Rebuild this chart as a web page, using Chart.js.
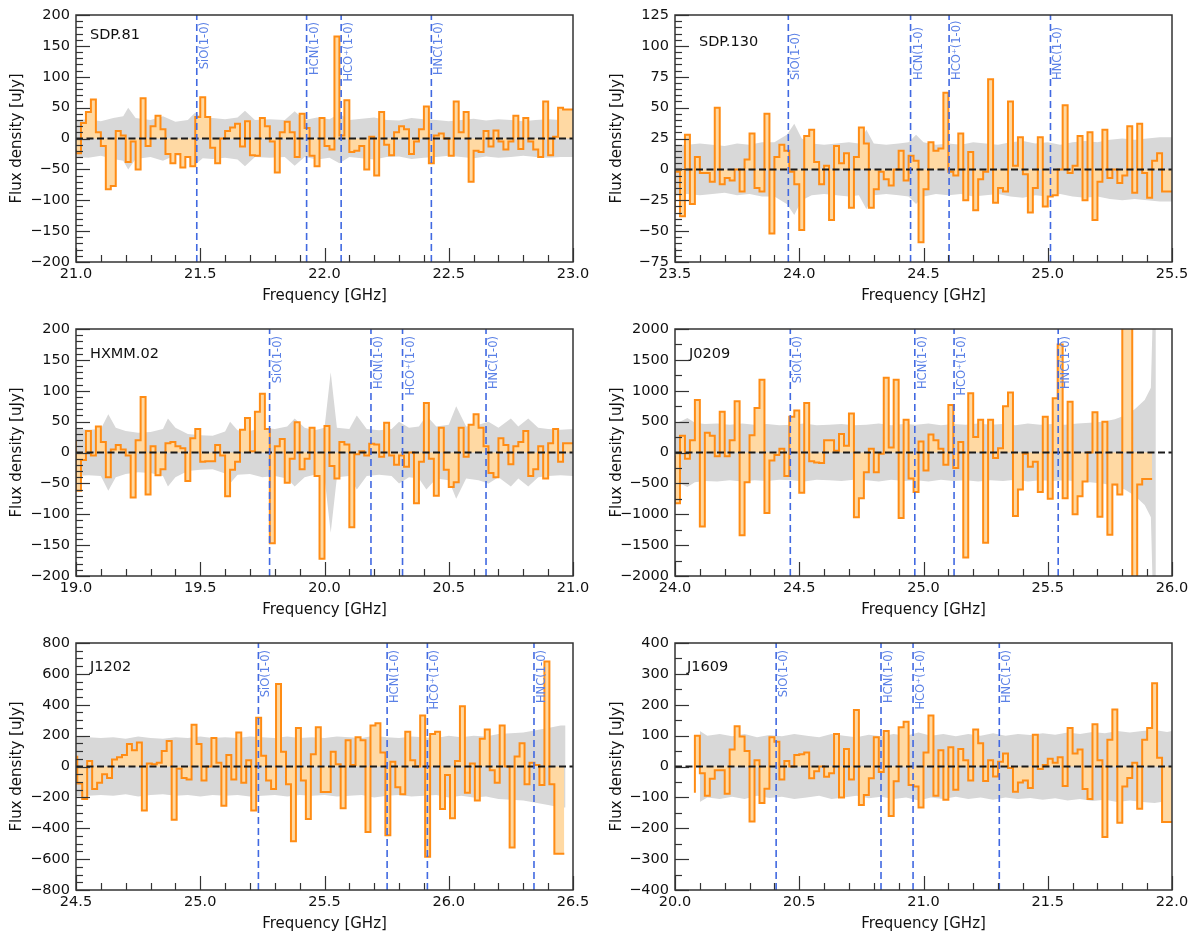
<!DOCTYPE html>
<html>
<head>
<meta charset="utf-8">
<script src="https://cdn.jsdelivr.net/npm/chart.js@4.4.1/dist/chart.umd.min.js"></script>
<style>
  body { margin: 0; background: #fff; }
  .panel { position: absolute; width: 600px; height: 314px; }
</style>
</head>
<body>
<div class="panel" style="left:0;top:0"><canvas id="p0"></canvas></div>
<div class="panel" style="left:600px;top:0"><canvas id="p1"></canvas></div>
<div class="panel" style="left:0;top:314px"><canvas id="p2"></canvas></div>
<div class="panel" style="left:600px;top:314px"><canvas id="p3"></canvas></div>
<div class="panel" style="left:0;top:628px"><canvas id="p4"></canvas></div>
<div class="panel" style="left:600px;top:628px"><canvas id="p5"></canvas></div>
<script>
// channel width of the spectra [GHz]
const CHAN = 0.02;
const lineNames = ["SiO(1-0)", "HCN(1-0)", "HCO\u207A(1-0)", "HNC(1-0)"];

// SDP.81
const sdp81Start = 21.0;
const sdp81Flux = [-18, -24, 25, 43, 63, 10, -12, -82, -77, 12,
  5, -38, -5, -50, 65, -12, 20, 37, 15, -25,
  -40, -25, -47, -30, -45, 35, 67, 35, -15, -40,
  0, 12, 18, 24, -13, 28, -27, -28, 33, 20,
  -5, -55, 10, 27, 10, -30, 40, 17, -28, -45,
  33, -12, -18, 165, 5, 62, -22, -20, -12, -50,
  3, -60, 43, -10, -27, 10, 20, 15, -25, -5,
  15, 52, -40, 5, 8, 0, -28, 60, 10, 43,
  -70, -20, -22, 12, -13, 13, -5, -18, -5, 37,
  -17, 33, -5, -18, -30, 60, -27, 3, 50, 47];
const sdp81Noise = [[21.00, 30], [21.05, 31], [21.10, 28], [21.15, 33], [21.19, 36], [21.21, 50], [21.24, 33],
  [21.30, 30], [21.35, 36], [21.40, 27], [21.45, 30], [21.48, 42], [21.51, 32], [21.55, 33], [21.60, 31],
  [21.65, 34], [21.68, 45], [21.72, 30], [21.78, 31], [21.84, 30], [21.88, 44], [21.92, 30], [21.97, 34],
  [22.02, 31], [22.06, 40], [22.10, 30], [22.15, 32], [22.20, 34], [22.25, 30], [22.30, 29], [22.35, 33],
  [22.40, 31], [22.45, 30], [22.50, 28], [22.55, 30], [22.60, 32], [22.65, 29], [22.70, 31], [22.75, 30],
  [22.80, 28], [22.85, 30], [22.90, 31], [22.95, 30], [23.00, 30]];
const sdp81Lines = [21.486, 21.928, 22.067, 22.430];

// SDP.130
const sdp130Start = 23.5;
const sdp130Flux = [-35, -2, -38, 28, -28, 10, -3, -3, -10, 50,
  -12, -7, -9, 0, -18, 8, 29, -15, -18, 45,
  -52, 10, 20, 15, -2, -12, -49, 27, 32, 6,
  -12, 3, -41, 19, 5, 13, -31, 10, 34, 21,
  -31, -16, -2, -8, -13, 0, 15, -9, 11, 7,
  -59, -16, 22, 15, 17, 62, -2, -5, 29, -25,
  14, -33, -8, -2, 73, -27, -15, -18, 55, 3,
  26, -4, -35, -15, 26, -30, -22, -21, 0, 52,
  -3, 3, 27, -25, 30, -41, -10, 32, -7, 0,
  -11, -5, 35, -19, 37, -3, -23, 7, 13, -18];
const sdp130Noise = [[23.50, 20], [23.55, 20], [23.60, 21], [23.65, 20], [23.70, 19], [23.75, 21], [23.80, 20],
  [23.85, 22], [23.90, 22], [23.95, 28], [23.98, 37], [24.01, 25], [24.05, 21], [24.10, 20], [24.15, 21],
  [24.20, 22], [24.24, 21], [24.27, 32], [24.30, 21], [24.35, 20], [24.40, 21], [24.44, 22], [24.47, 28],
  [24.50, 22], [24.55, 20], [24.60, 21], [24.65, 20], [24.70, 22], [24.75, 21], [24.80, 20], [24.85, 22],
  [24.90, 23], [24.95, 21], [25.00, 22], [25.05, 20], [25.10, 22], [25.15, 23], [25.20, 22], [25.25, 24],
  [25.30, 25], [25.35, 24], [25.40, 25], [25.45, 26], [25.50, 26]];
const sdp130Lines = [23.956, 24.448, 24.603, 25.011];

// HXMM.02
const hxmmStart = 19.0;
const hxmmFlux = [20, -62, -12, 35, -5, 42, 17, -40, 5, 12,
  5, -5, -73, 20, 90, -68, 10, -37, -27, 15,
  17, 10, 7, -46, 23, 38, -15, -14, -14, 12,
  -5, -71, -28, -15, 37, 56, 2, 66, 95, 38,
  -147, 10, 22, -49, -10, 49, -27, -10, 40, -38,
  -172, 43, -22, -42, 17, 13, -121, -3, 2, -5,
  14, 13, -7, 48, -5, -20, -5, -23, 0, -82,
  -15, 80, -10, -70, 40, -28, -56, -48, 40, -7,
  45, 62, 40, 10, -33, -40, 23, 12, -19, 10,
  17, 35, -38, -27, 10, -42, 15, 38, -15, 15];
const hxmmNoise = [[19.00, 38], [19.05, 37], [19.10, 38], [19.13, 62], [19.16, 40], [19.20, 35], [19.25, 32],
  [19.30, 33], [19.35, 38], [19.37, 55], [19.40, 40], [19.45, 30], [19.50, 28], [19.55, 27], [19.60, 34],
  [19.62, 50], [19.65, 36], [19.70, 35], [19.75, 40], [19.80, 38], [19.85, 42], [19.88, 55], [19.92, 40],
  [19.96, 36], [20.00, 40], [20.025, 130], [20.05, 40], [20.10, 38], [20.13, 60], [20.17, 38], [20.22, 36],
  [20.27, 38], [20.30, 50], [20.34, 40], [20.38, 42], [20.41, 60], [20.45, 42], [20.50, 45], [20.53, 75],
  [20.57, 42], [20.62, 45], [20.66, 50], [20.70, 40], [20.75, 55], [20.78, 42], [20.82, 55], [20.86, 40],
  [20.90, 38], [20.95, 37], [21.00, 38]];
const hxmmLines = [19.779, 20.187, 20.314, 20.650];

// J0209
const j0209Start = 24.0;
const j0209Flux = [-50, -820, 270, -100, 200, 850, -1200, 320, 270, -60,
  660, -60, 200, 830, -1340, -480, 280, 720, 1180, -980,
  -130, -40, 60, -380, 580, 680, -650, 800, -140, -160,
  -170, 200, 200, 30, 300, 110, 630, -1050, -740, -320,
  60, -320, -20, 1210, 80, 1180, -1060, 530, -420, -640,
  180, -290, 290, 200, 60, -200, 770, -250, 170, -1700,
  960, 250, 530, -1460, 530, -90, 70, 750, 970, -1030,
  -600, -20, -230, -150, -640, 580, -750, 880, 1750, -740,
  820, -1000, -710, -470, 0, 650, -1040, 500, -1330, -520,
  -680, 2400, 2400, -2400, -520, -430];
const j0209Noise = [[24.00, 470], [24.03, 520], [24.05, 560], [24.08, 480], [24.12, 460], [24.17, 470],
  [24.22, 450], [24.27, 470], [24.32, 450], [24.37, 460], [24.42, 440], [24.47, 450], [24.52, 470],
  [24.57, 440], [24.62, 450], [24.67, 460], [24.72, 440], [24.77, 450], [24.82, 470], [24.87, 440],
  [24.92, 460], [24.97, 450], [25.02, 470], [25.07, 440], [25.12, 460], [25.17, 450], [25.22, 470],
  [25.27, 450], [25.32, 460], [25.37, 440], [25.42, 470], [25.47, 450], [25.52, 460], [25.57, 450],
  [25.62, 470], [25.67, 480], [25.72, 500], [25.77, 540], [25.81, 600], [25.85, 700], [25.89, 850],
  [25.915, 1050], [25.925, 2600], [25.935, 2600]];
const j0209Lines = [24.464, 24.965, 25.123, 25.542];

// J1202
const j1202Start = 24.505;
const j1202Flux = [70, -110, -210, 35, -145, -105, -50, -75, 45, 60,
  75, 145, 105, 155, -285, 20, 15, 25, 100, 165,
  -345, -15, -75, -85, 270, 145, -90, 0, 185, 25,
  -255, 75, -85, 220, -105, 40, -285, 315, 70, -90,
  -145, 535, 95, -115, -485, 250, -90, -340, 80, 255,
  -165, -165, 95, 15, -270, 170, 10, 190, 170, -425,
  265, 280, 90, -445, 30, -135, -180, 225, 40, 0,
  330, -585, 210, 225, -275, -55, -335, 35, 390, -170,
  20, -220, 180, 240, -25, -105, 265, 0, -525, 65,
  150, -115, 25, 10, -120, 680, -115, -565];
const j1202Noise = [[24.50, 195], [24.55, 190], [24.60, 185], [24.65, 190], [24.70, 180], [24.75, 195],
  [24.80, 185], [24.85, 180], [24.90, 190], [24.95, 185], [25.00, 195], [25.05, 185], [25.10, 190],
  [25.15, 185], [25.20, 195], [25.25, 190], [25.30, 185], [25.35, 195], [25.40, 185], [25.45, 190],
  [25.50, 185], [25.55, 195], [25.60, 190], [25.65, 185], [25.70, 200], [25.75, 190], [25.80, 185],
  [25.85, 195], [25.90, 190], [25.95, 185], [26.00, 200], [26.05, 190], [26.10, 200], [26.15, 195],
  [26.20, 210], [26.25, 215], [26.30, 220], [26.35, 235], [26.40, 250], [26.45, 265], [26.47, 265]];
const j1202Lines = [25.234, 25.752, 25.914, 26.343];

// J1609
const j1609Start = 20.08;
const j1609Flux = [-85, 100, -22, -95, -40, -12, -12, -88, 55, 130,
  97, 50, -178, 20, -118, -72, 95, 80, -42, 18,
  0, 37, 40, 45, -38, -15, 0, -33, -22, 105,
  -100, 57, -42, 183, -125, -92, -38, 95, -18, 115,
  -160, -48, 127, 145, -60, -65, -133, 45, 165, -95,
  53, -108, 62, -75, 57, 20, -45, 120, 75, -47,
  20, -32, 15, 42, -5, -82, -52, -45, -70, 103,
  -8, 5, 25, 12, 30, -63, 125, 42, 55, -73,
  -105, 137, 20, -228, 87, 185, -182, -65, -37, 12,
  -137, 87, 125, 270, 28, -180];
const j1609Noise = [[20.10, 115], [20.13, 100], [20.18, 105], [20.23, 98], [20.28, 105], [20.33, 95],
  [20.38, 102], [20.43, 98], [20.48, 105], [20.53, 100], [20.58, 95], [20.63, 105], [20.68, 100],
  [20.73, 95], [20.78, 103], [20.83, 98], [20.88, 105], [20.93, 100], [20.98, 110], [21.03, 100],
  [21.08, 105], [21.13, 98], [21.18, 105], [21.23, 100], [21.28, 108], [21.33, 100], [21.38, 105],
  [21.43, 102], [21.48, 108], [21.53, 103], [21.58, 110], [21.63, 105], [21.68, 112], [21.73, 108],
  [21.78, 115], [21.83, 110], [21.88, 115], [21.93, 118], [21.98, 112], [22.00, 115]];
const j1609Lines = [20.407, 20.829, 20.958, 21.305];

const panels = [
  { id: "p0", name: "SDP.81", start: sdp81Start, flux: sdp81Flux, noise: sdp81Noise, lines: sdp81Lines,
    xMin: 21, xMax: 23, yMin: -200, yMax: 200, yStep: 50, yMinor: 10, nameX: 14, nameY: 35, labelTop: true, right: false },
  { id: "p1", name: "SDP.130", start: sdp130Start, flux: sdp130Flux, noise: sdp130Noise, lines: sdp130Lines,
    xMin: 23.5, xMax: 25.5, yMin: -75, yMax: 125, yStep: 25, yMinor: 5, nameX: 24, nameY: 42, labelTop: false, right: true },
  { id: "p2", name: "HXMM.02", start: hxmmStart, flux: hxmmFlux, noise: hxmmNoise, lines: hxmmLines,
    xMin: 19, xMax: 21, yMin: -200, yMax: 200, yStep: 50, yMinor: 10, nameX: 14, nameY: 40, labelTop: true, right: false },
  { id: "p3", name: "J0209", start: j0209Start, flux: j0209Flux, noise: j0209Noise, lines: j0209Lines,
    xMin: 24, xMax: 26, yMin: -2000, yMax: 2000, yStep: 500, yMinor: 250, nameX: 14, nameY: 40, labelTop: true, right: true },
  { id: "p4", name: "J1202", start: j1202Start, flux: j1202Flux, noise: j1202Noise, lines: j1202Lines,
    xMin: 24.5, xMax: 26.5, yMin: -800, yMax: 800, yStep: 200, yMinor: 50, nameX: 14, nameY: 39, labelTop: true, right: false },
  { id: "p5", name: "J1609", start: j1609Start, flux: j1609Flux, noise: j1609Noise, lines: j1609Lines,
    xMin: 20, xMax: 22, yMin: -400, yMax: 400, yStep: 100, yMinor: 50, nameX: 12, nameY: 39, labelTop: true, right: true },
];

Chart.defaults.font.family = "'DejaVu Sans', sans-serif";
Chart.defaults.font.size = 14.5;
Chart.defaults.color = "#111";

const BLUE = "#4169e1";
const LABEL_BLUE = "#5a80e6";

function steps(start, vals) {
  const pts = vals.map((v, i) => ({ x: start + i * CHAN, y: v }));
  pts.push({ x: start + vals.length * CHAN, y: vals[vals.length - 1] });
  return pts;
}

// line labels, source name, frame and inward ticks
const decor = {
  id: "decor",
  afterDraw(chart, args, o) {
    const { ctx, chartArea: a, scales: { x, y } } = chart;
    ctx.save();
    ctx.fillStyle = LABEL_BLUE;
    ctx.font = "11.5px 'DejaVu Sans'";
    ctx.textBaseline = "middle";
    o.lines.forEach((f, i) => {
      ctx.save();
      ctx.translate(x.getPixelForValue(f) + 8, o.labelTop ? a.top + 7 : 80);
      ctx.rotate(-Math.PI / 2);
      ctx.textAlign = o.labelTop ? "right" : "left";
      ctx.fillText(lineNames[i], 0, 0);
      ctx.restore();
    });

    ctx.fillStyle = "#111";
    ctx.font = "14.5px 'DejaVu Sans'";
    ctx.textAlign = "left";
    ctx.fillText(o.name, a.left + o.nameX, o.nameY);

    ctx.strokeStyle = "#333";
    ctx.lineWidth = 1.2;
    const ny = Math.round((o.yMax - o.yMin) / o.yMinor);
    for (let k = 0; k <= ny; k++) {
      const v = o.yMin + k * o.yMinor;
      const major = Math.abs(v / o.yStep - Math.round(v / o.yStep)) < 1e-6;
      const py = Math.round(y.getPixelForValue(v)) + 0.5;
      ctx.beginPath();
      ctx.moveTo(a.left, py);
      ctx.lineTo(a.left + (major ? 14 : 7), py);
      ctx.stroke();
    }
    const nx = Math.round((o.xMax - o.xMin) / 0.1);
    for (let k = 0; k <= nx; k++) {
      const px = Math.round(x.getPixelForValue(o.xMin + k * 0.1)) + 0.5;
      ctx.beginPath();
      ctx.moveTo(px, a.bottom);
      ctx.lineTo(px, a.bottom - (k % 5 === 0 ? 14 : 7));
      ctx.stroke();
    }
    ctx.lineWidth = 1.5;
    ctx.strokeRect(a.left, a.top, a.right - a.left, a.bottom - a.top);
    ctx.restore();
  },
};

panels.forEach((p) => {
  const datasets = [];
  p.lines.forEach((f) => {
    datasets.push({
      data: [{ x: f, y: p.yMin }, { x: f, y: p.yMax }],
      borderColor: BLUE, borderWidth: 1.6, borderDash: [7, 4], fill: false,
    });
  });
  datasets.push({
    data: [{ x: p.xMin, y: 0 }, { x: p.xMax, y: 0 }],
    borderColor: "#1a1a1a", borderWidth: 2, borderDash: [7, 3.5], fill: false,
  });
  datasets.push({
    data: steps(p.start, p.flux),
    stepped: "after",
    borderColor: "#ff8c14", borderWidth: 2,
    backgroundColor: "#ffd9a3",
    fill: "origin",
  });
  datasets.push({
    data: p.noise.map(([f, s]) => ({ x: f, y: s })),
    borderColor: "rgba(0,0,0,0)", backgroundColor: "#d8d8d8",
    fill: "+1",
  });
  datasets.push({
    data: p.noise.map(([f, s]) => ({ x: f, y: -s })),
    borderColor: "rgba(0,0,0,0)", fill: false,
  });

  new Chart(document.getElementById(p.id), {
    type: "line",
    data: { datasets },
    plugins: [decor],
    options: {
      responsive: true,
      maintainAspectRatio: false,
      animation: false,
      events: [],
      layout: { padding: { left: 0, top: 15, right: p.right ? 28 : 27, bottom: 0 } },
      elements: { point: { radius: 0 }, line: { tension: 0 } },
      plugins: {
        legend: { display: false },
        tooltip: { enabled: false },
        decor: p,
      },
      scales: {
        x: {
          type: "linear",
          min: p.xMin,
          max: p.xMax,
          grid: { display: false, drawTicks: false },
          border: { display: false },
          ticks: {
            stepSize: 0.5, padding: 4, autoSkip: false, maxRotation: 0,
            callback: (v) => v.toFixed(1),
          },
          title: { display: true, text: "Frequency [GHz]", font: { size: 15 }, padding: { top: 0, bottom: 9 } },
          afterFit: (s) => { s.height = 52; },
        },
        y: {
          min: p.yMin,
          max: p.yMax,
          grid: { display: false, drawTicks: false },
          border: { display: false },
          ticks: {
            stepSize: p.yStep, padding: 6, autoSkip: false,
            callback: (v) => String(v).replace("-", "\u2212"),
          },
          title: { display: true, text: "Flux density [uJy]", font: { size: 15 }, padding: { top: 8, bottom: 0 } },
          afterFit: (s) => { s.width = p.right ? 75 : 76; },
        },
      },
    },
  });
});
</script>
</body>
</html>
